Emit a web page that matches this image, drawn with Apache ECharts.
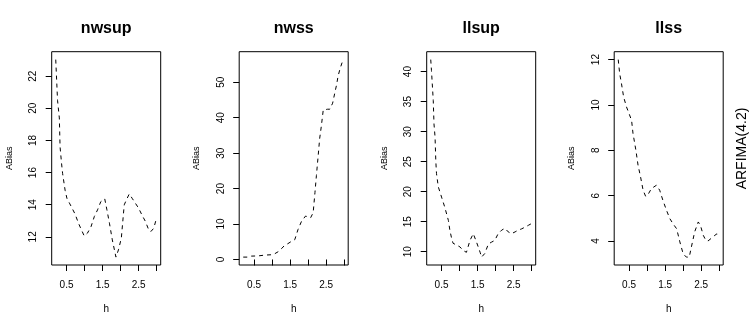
<!DOCTYPE html>
<html>
<head>
<meta charset="utf-8">
<script src="https://cdn.jsdelivr.net/npm/echarts@6/dist/echarts.min.js"></script>
<style>html,body{margin:0;padding:0;background:#fff;}#chart{width:750px;height:330px;}</style>
</head>
<body>
<div id="chart"></div>
<script>
// ---- data ----
var titles = ['nwsup', 'nwss', 'llsup', 'llss'];
var sideText = 'ARFIMA(4.2)';
var xName = 'h';
var yName = 'ABias';

var hNwsup = [0.2,0.25,0.3,0.32,0.36,0.39,0.46,0.51,0.58,0.65,0.74,0.83,0.93,0.99,1.08,1.18,1.27,1.36,1.45,1.56,1.62,1.69,1.77,1.87,1.94,2.02,2.1,2.16,2.24,2.32,2.41,2.5,2.59,2.69,2.78,2.84,2.92,3.0];
var nwsup  = [23.03,20.5,19.4,17.6,16.6,15.95,14.9,14.4,14.1,13.8,13.4,12.85,12.35,12.06,12.23,12.64,13.26,13.68,14.19,14.36,13.68,12.85,11.81,10.74,11.19,11.92,13.99,14.3,14.67,14.4,14.09,13.78,13.37,12.95,12.43,12.33,12.54,13.2];

var hNwss = [0.2,0.33,0.43,0.61,0.8,0.98,1.07,1.17,1.26,1.35,1.44,1.54,1.63,1.72,1.82,1.86,1.93,2.0,2.07,2.14,2.19,2.23,2.28,2.32,2.37,2.42,2.46,2.54,2.6,2.68,2.74,2.79,2.83,2.88,2.94,3.0];
var nwss  = [0.67,0.67,0.95,1.0,1.24,1.33,1.6,2.19,3.04,4.0,4.47,5.13,5.6,8.46,10.84,11.3,12.26,11.98,11.79,13.2,18.9,23.7,29.4,34.1,37.9,42.2,42.7,42.4,42.4,44.1,47.0,49.3,51.7,53.6,55.5,56.4];

var hLlsup = [0.2,0.22,0.27,0.29,0.32,0.34,0.36,0.41,0.5,0.59,0.69,0.73,0.78,0.82,0.92,1.01,1.1,1.19,1.29,1.38,1.47,1.57,1.61,1.7,1.8,1.89,1.98,2.07,2.17,2.26,2.35,2.44,2.54,2.63,2.72,2.82,2.91,3.0];
var llsup  = [42.0,40.2,35.2,31.3,29.1,25.2,23.0,20.8,19.1,17.4,15.2,13.6,12.2,11.4,11.1,10.8,10.2,9.9,11.9,13.0,11.6,9.9,9.1,9.7,11.3,11.6,11.9,13.0,13.6,13.9,13.3,13.0,13.3,13.6,13.8,14.1,14.4,14.7];

var hLlss = [0.2,0.24,0.29,0.35,0.43,0.5,0.57,0.61,0.69,0.75,0.82,0.89,0.96,1.03,1.12,1.26,1.35,1.44,1.54,1.63,1.72,1.82,1.91,2.0,2.09,2.17,2.23,2.32,2.42,2.48,2.56,2.63,2.69,2.79,2.88,2.94,3.0];
var llss  = [12.0,11.38,10.94,10.35,9.91,9.62,9.32,8.74,8.0,7.34,6.82,6.24,5.97,6.06,6.31,6.46,6.24,5.79,5.35,4.99,4.76,4.54,3.96,3.44,3.29,3.29,3.74,4.4,4.84,4.69,4.25,4.03,4.0,4.13,4.25,4.32,4.25];

var xTicks = [0.5, 1.0, 1.5, 2.0, 2.5, 3.0];
var xTickLabels = [0.5, 1.5, 2.5];
var yTicksNwsup = [12, 14, 16, 18, 20, 22];
var yTicksNwss = [0, 10, 20, 30, 40, 50];
var yTicksLlsup = [10, 15, 20, 25, 30, 35, 40];
var yTicksLlss = [4, 6, 8, 10, 12];

// ---- build ----
var panels = [
  {h: hNwsup, v: nwsup, yt: yTicksNwsup},
  {h: hNwss, v: nwss, yt: yTicksNwss},
  {h: hLlsup, v: llsup, yt: yTicksLlsup},
  {h: hLlss, v: llss, yt: yTicksLlss}
];
var FONT = 'Liberation Sans, Arial, sans-serif';
function ext(arr) {
  var mn = Math.min.apply(null, arr), mx = Math.max.apply(null, arr);
  var d = (mx - mn) * 0.04;
  return [mn - d, mx + d];
}
var grids = [], xAxes = [], yAxes = [], series = [], graphics = [];
var boxL0 = 51.7, step = 187.5, boxW = 109, boxT = 51.7, boxH = 213.3;
panels.forEach(function (p, i) {
  var left = boxL0 + step * i;
  grids.push({left: left, top: boxT, width: boxW, height: boxH, show: true,
    borderColor: '#000', borderWidth: 1, backgroundColor: 'transparent', containLabel: false});
  var xr = ext(p.h), yr = ext(p.v);
  xAxes.push({type: 'value', gridIndex: i, min: xr[0], max: xr[1],
    axisLine: {show: false},
    axisTick: {show: true, inside: false, length: 6, lineStyle: {color: '#000', width: 1}, customValues: xTicks},
    axisLabel: {show: true, margin: 15, color: '#000', fontSize: 10, fontFamily: FONT, customValues: xTickLabels,
      formatter: function (v) { return v.toFixed(1); }},
    splitLine: {show: false},
    name: xName, nameLocation: 'middle', nameGap: 39,
    nameTextStyle: {color: '#000', fontSize: 10, fontFamily: FONT}
  });
  yAxes.push({type: 'value', gridIndex: i, min: yr[0], max: yr[1],
    axisLine: {show: false},
    axisTick: {show: true, inside: false, length: 6, lineStyle: {color: '#000', width: 1}, customValues: p.yt},
    axisLabel: {show: true, margin: 13, rotate: 90, color: '#000', fontSize: 10, fontFamily: FONT, customValues: p.yt},
    splitLine: {show: false},
    name: yName, nameLocation: 'middle', nameGap: 38, nameRotate: 90,
    nameTextStyle: {color: '#000', fontSize: 9, fontFamily: FONT}
  });
  var data = p.h.map(function (h, k) { return [h, p.v[k]]; });
  series.push({type: 'line', xAxisIndex: i, yAxisIndex: i, data: data, showSymbol: false,
    symbol: 'none', silent: true, clip: true,
    lineStyle: {color: '#000', width: 1, type: [4, 4]}});
  graphics.push({type: 'text', x: left + boxW / 2, y: 29,
    style: {text: titles[i], font: 'bold 16px ' + FONT, fill: '#000', textAlign: 'center', textVerticalAlign: 'middle'}});
});
graphics.push({type: 'text', x: 742, y: 148.5, rotation: Math.PI / 2,
  style: {text: sideText, font: '14px ' + FONT, fill: '#000', textAlign: 'center', textVerticalAlign: 'middle'}});

var chart = echarts.init(document.getElementById('chart'), null, {renderer: 'canvas'});
chart.setOption({
  animation: false,
  backgroundColor: '#fff',
  grid: grids, xAxis: xAxes, yAxis: yAxes, series: series, graphic: graphics
});
</script>
</body>
</html>
